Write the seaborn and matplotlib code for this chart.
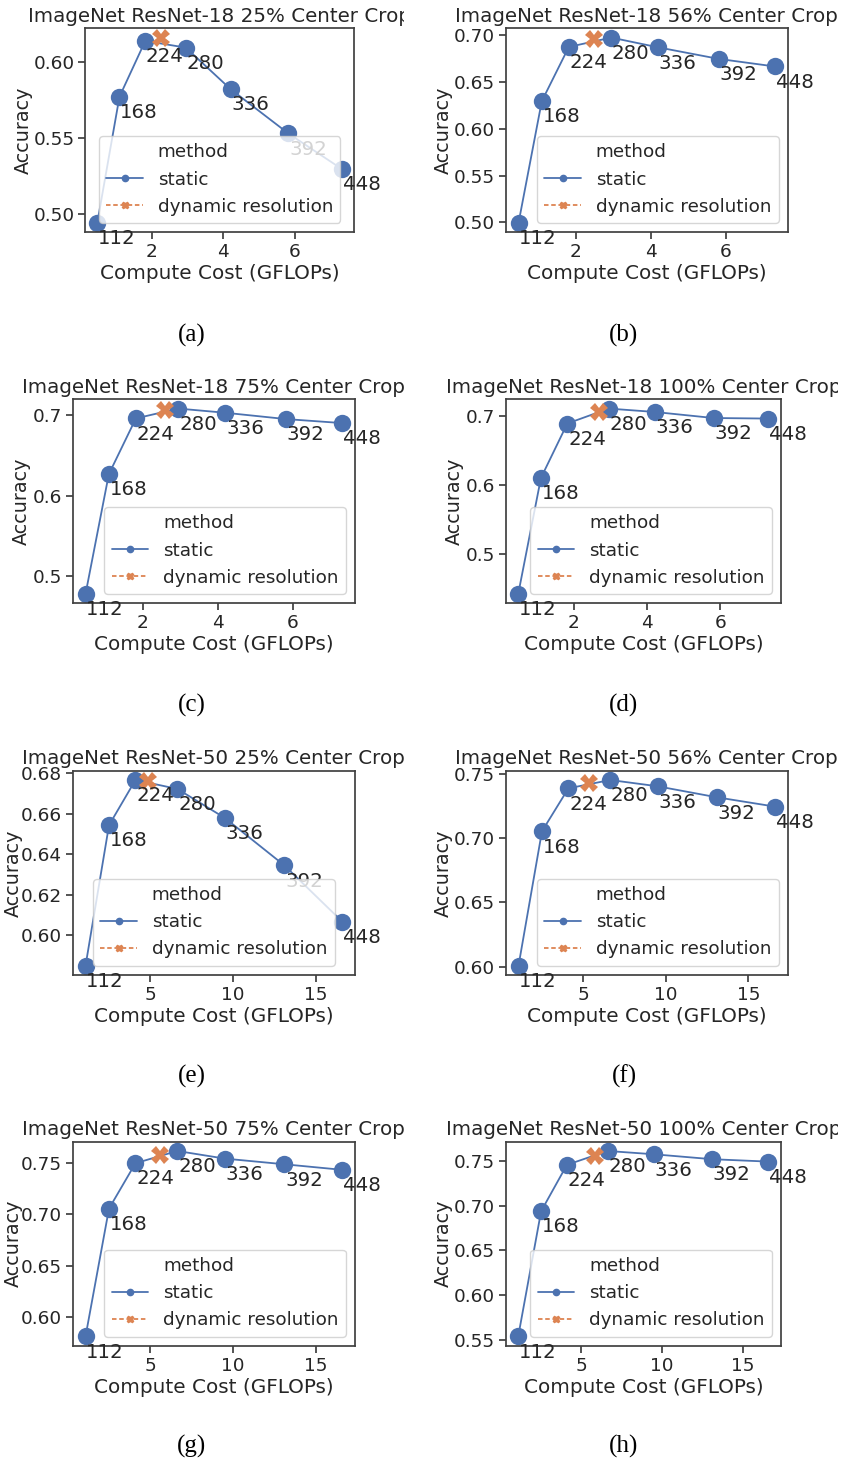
import numpy as np
import pandas as pd
import matplotlib
matplotlib.use("Agg")
import matplotlib.pyplot as plt
from matplotlib.lines import Line2D
from matplotlib.ticker import MultipleLocator
from matplotlib.transforms import Bbox, TransformedBbox
import seaborn as sns

# ---------------- data ----------------
resolutions = [112, 168, 224, 280, 336, 392, 448]
r18_gflops = [0.48, 1.10, 1.82, 2.95, 4.20, 5.81, 7.31]
r50_gflops = [1.08, 2.50, 4.10, 6.63, 9.50, 13.10, 16.60]

titles = [
    "ImageNet ResNet-18 25% Center Crop",
    "ImageNet ResNet-18 56% Center Crop",
    "ImageNet ResNet-18 75% Center Crop",
    "ImageNet ResNet-18 100% Center Crop",
    "ImageNet ResNet-50 25% Center Crop",
    "ImageNet ResNet-50 56% Center Crop",
    "ImageNet ResNet-50 75% Center Crop",
    "ImageNet ResNet-50 100% Center Crop",
]
captions = ["(a)", "(b)", "(c)", "(d)", "(e)", "(f)", "(g)", "(h)"]

acc_r18_25 = [0.494, 0.577, 0.6137, 0.6093, 0.582, 0.5529, 0.5294]
acc_r18_56 = [0.4994, 0.6292, 0.687, 0.697, 0.6866, 0.6743, 0.6662]
acc_r18_75 = [0.478, 0.6266, 0.6958, 0.708, 0.7028, 0.695, 0.690]
acc_r18_100 = [0.4416, 0.610, 0.689, 0.7107, 0.7058, 0.697, 0.6962]
acc_r50_25 = [0.585, 0.6543, 0.6766, 0.6722, 0.6579, 0.6345, 0.6068]
acc_r50_56 = [0.6008, 0.7054, 0.7388, 0.7453, 0.7404, 0.7318, 0.7246]
acc_r50_75 = [0.5813, 0.7054, 0.7494, 0.7613, 0.7539, 0.7484, 0.743]
acc_r50_100 = [0.5537, 0.6937, 0.7456, 0.7611, 0.7574, 0.7519, 0.7492]

dyn_gflops = [2.25, 2.49, 2.59, 2.68, 4.85, 5.34, 5.56, 5.86]
dyn_acc = [0.6159, 0.6958, 0.7065, 0.7058, 0.6762, 0.7427, 0.7571, 0.7556]

static_acc = [acc_r18_25, acc_r18_56, acc_r18_75, acc_r18_100,
              acc_r50_25, acc_r50_56, acc_r50_75, acc_r50_100]
static_gflops = [r18_gflops] * 4 + [r50_gflops] * 4

# ---------------- style ----------------
sns.set_theme(style="ticks", palette="deep")
plt.rcParams.update({
    "axes.edgecolor": ".25",
    "axes.linewidth": 1.25,
    "xtick.major.size": 5,
    "ytick.major.size": 5,
    "xtick.major.width": 1.1,
    "ytick.major.width": 1.1,
    "xtick.major.pad": 3,
    "ytick.major.pad": 2.5,
    "xtick.color": ".15",
    "ytick.color": ".15",
})
plt.rcParams["font.family"] = ["DejaVu Sans"]

pal = sns.color_palette("deep")
blue, orange = pal[0], pal[1]
methods = ["static", "dynamic resolution"]

W, H = 843, 1464
fig = plt.figure(figsize=(W / 100, H / 100), dpi=100)

# axes boxes in pixels: left, top, right, bottom
boxes = [
    (85, 28.3, 354.3, 232.3),
    (505.7, 28.3, 787.7, 232.3),
    (72.7, 399.3, 355, 603.3),
    (505.7, 399.3, 781, 603.3),
    (72.7, 770.7, 355, 975),
    (505.7, 770.7, 787.7, 975),
    (72.7, 1141.7, 355, 1345.7),
    (505.7, 1141.7, 781, 1345.7),
]
# right edge (pixels) of the rotated y-axis label
ylabel_right = [33, 453, 31, 464, 22.8, 453, 22.8, 453]
caption_pos = [(191.7, 335), (624, 335), (191.7, 705), (624, 705),
               (191.7, 1076.5), (624, 1076.5), (191.7, 1446.5), (624, 1446.5)]
ytick_steps = [0.05, 0.05, 0.1, 0.1, 0.02, 0.05, 0.05, 0.05]
xtick_steps = [2, 2, 2, 2, 5, 5, 5, 5]
legend_locs = ["lower center", "lower right", "lower right", "lower right",
               "lower center", "lower right", "lower right", "lower right"]

legend_handles = [
    Line2D([], [], color="none"),
    Line2D([], [], color=blue, marker="o", markersize=4.5, lw=1.3),
    Line2D([], [], color=orange, marker="X", markersize=5, lw=1.3, ls=(0, (2.5, 1.5))),
]
legend_labels = ["method", "static", "dynamic resolution"]

for i in range(8):
    l, t, r, b = boxes[i]
    ax = fig.add_axes([l / W, 1 - b / H, (r - l) / W, (b - t) / H])

    df = pd.DataFrame({
        "gflops": list(static_gflops[i]) + [dyn_gflops[i]],
        "acc": list(static_acc[i]) + [dyn_acc[i]],
        "method": [methods[0]] * len(resolutions) + [methods[1]],
    })
    sns.lineplot(
        data=df, x="gflops", y="acc", hue="method", style="method",
        hue_order=methods, style_order=methods,
        palette=[blue, orange],
        markers={"static": "o", "dynamic resolution": "X"},
        dashes={"static": "", "dynamic resolution": (3, 1.5)},
        markersize=12.5, markeredgewidth=0, linewidth=1.3,
        legend=False, ax=ax,
    )

    for xv, yv, rv in zip(static_gflops[i], static_acc[i], resolutions):
        ax.annotate(str(rv), (xv, yv), xytext=(0.5, -4.5), textcoords="offset points",
                    ha="left", va="top", fontsize=14.2, color=".15")

    ax.yaxis.set_major_locator(MultipleLocator(ytick_steps[i]))
    ax.xaxis.set_major_locator(MultipleLocator(xtick_steps[i]))
    ax.tick_params(labelsize=13.3)
    ax.set_xlabel("Compute Cost (GFLOPs)", fontsize=14.4, labelpad=2)
    ax.set_ylabel("Accuracy", fontsize=13.8)
    ax.yaxis.set_label_coords((ylabel_right[i] - l) / (r - l), 0.5)

    title = ax.set_title(titles[i], fontsize=14.3, pad=4.5, color=".15")
    clip_right = 404 if i % 2 == 0 else 838
    title.set_clip_box(TransformedBbox(Bbox([[0, 0], [clip_right / W, 1]]), fig.transFigure))
    title.set_clip_on(True)

    leg = ax.legend(legend_handles, legend_labels, loc=legend_locs[i], fontsize=13.2,
                    handlelength=2.0, handletextpad=0.8, labelspacing=0.5,
                    borderaxespad=0.5)
    for txt in leg.get_texts():
        txt.set_color(".15")

    cx, cy = caption_pos[i]
    fig.text(cx / W, 1 - cy / H, captions[i], ha="center", va="center",
             fontsize=18, family="Liberation Serif", color="black")

fig.savefig("out.png", dpi=100)
